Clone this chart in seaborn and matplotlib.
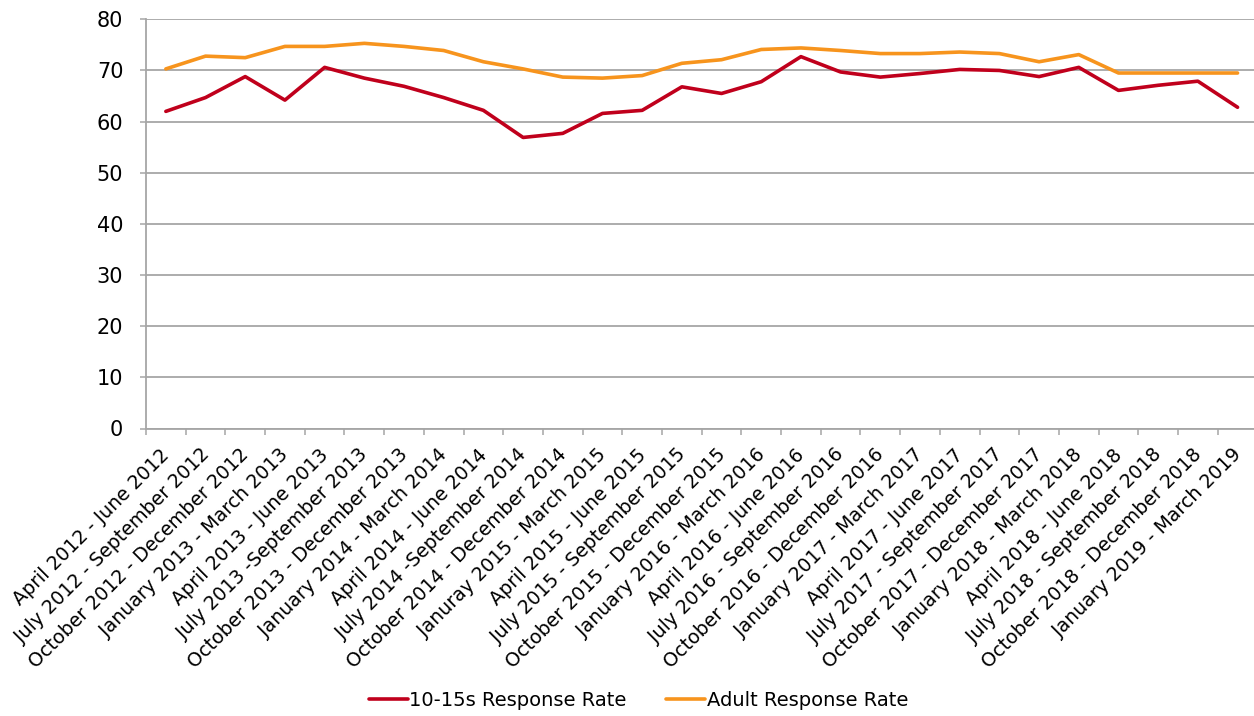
import numpy as np
import pandas as pd
import matplotlib
matplotlib.use('Agg')
import matplotlib.pyplot as plt
import matplotlib.transforms as mtransforms
import seaborn as sns

# Quarter labels (spelling kept as in the source chart)
quarters = [
    'April 2012 - June 2012', 'July 2012 - September 2012', 'October 2012 - December 2012',
    'January 2013 - March 2013', 'April 2013 - June 2013', 'July 2013 -September 2013',
    'October 2013 - December 2013', 'January 2014 - March 2014', 'April 2014 - June 2014',
    'July 2014 -September 2014', 'October 2014 - December 2014', 'Januray 2015 - March 2015',
    'April 2015 - June 2015', 'July 2015 - September 2015', 'October 2015 - December 2015',
    'January 2016 - March 2016', 'April 2016 - June 2016', 'July 2016 - September 2016',
    'October 2016 - December 2016', 'January 2017 - March 2017', 'April 2017 - June 2017',
    'July 2017 - September 2017', 'October 2017 - December 2017', 'January 2018 - March 2018',
    'April 2018 - June 2018', 'July 2018 - September 2018', 'October 2018 - December 2018',
    'January 2019 - March 2019',
]

youth_rate = [62.0, 64.7, 68.8, 64.2, 70.6, 68.5, 66.9, 64.7, 62.2, 56.9, 57.7, 61.6, 62.2, 66.8,
              65.5, 67.8, 72.7, 69.7, 68.7, 69.4, 70.2, 70.0, 68.8, 70.6, 66.1, 67.1, 67.9, 62.8]
adult_rate = [70.3, 72.8, 72.5, 74.7, 74.7, 75.3, 74.7, 73.9, 71.7, 70.3, 68.7, 68.5, 69.0, 71.4,
              72.1, 74.1, 74.4, 73.9, 73.3, 73.3, 73.6, 73.3, 71.7, 73.1, 69.5, 69.5, 69.5, 69.5]

series_names = ['10-15s Response Rate', 'Adult Response Rate']
series_colors = ['#C0001C', '#F7941D']
y_ticks = [0, 10, 20, 30, 40, 50, 60, 70, 80]

# long-form table for seaborn
df = pd.DataFrame({
    'pos': list(range(len(quarters))) * 2,
    'rate': youth_rate + adult_rate,
    'series': [series_names[0]] * len(quarters) + [series_names[1]] * len(quarters),
})

sns.set_style('white')
plt.rcParams['font.family'] = ['DejaVu Sans']
plt.rcParams['text.color'] = 'black'

W, H = 1254, 716
fig = plt.figure(figsize=(W / 100, H / 100), dpi=100)
ax = fig.add_axes([146 / W, 1 - 428.5 / H, (1257.4 - 146) / W, (428.5 - 19.3) / H])

sns.lineplot(data=df, x='pos', y='rate', hue='series', hue_order=series_names,
             palette=dict(zip(series_names, series_colors)), linewidth=2.6,
             legend=False, ax=ax, zorder=3)

grid_col = '#A6A6A6'
ax.set_xlim(-0.5, len(quarters) - 0.5)
ax.set_ylim(0, 80)
ax.set_yticks(y_ticks)
ax.yaxis.grid(True, color=grid_col, linewidth=1.3)
ax.set_axisbelow(True)
ax.tick_params(axis='y', labelsize=15, length=4.3, width=1.1, color=grid_col, pad=12,
               left=True, labelcolor='black')

ax.set_xticks(range(len(quarters)))
ax.set_xticklabels(quarters, rotation=45, ha='right', va='top', rotation_mode='anchor', fontsize=13.7)
ax.set_xticks(np.arange(-0.5, len(quarters), 1), minor=True)
ax.tick_params(axis='x', which='major', length=0, pad=12, labelcolor='black')
ax.tick_params(axis='x', which='minor', length=4, width=1.1, color=grid_col, bottom=True)
shift = mtransforms.ScaledTranslation(-6 / 100, 0, fig.dpi_scale_trans)
for lab in ax.get_xticklabels():
    lab.set_transform(lab.get_transform() + shift)

ax.set_xlabel('')
ax.set_ylabel('')
for side in ['top', 'right']:
    ax.spines[side].set_visible(False)
for side in ['left', 'bottom']:
    ax.spines[side].set_color(grid_col)
    ax.spines[side].set_linewidth(1.3)

handles = ax.get_lines()[:2]
ax.legend(handles, series_names, loc='center', bbox_to_anchor=(0.509, 0.022),
          bbox_transform=fig.transFigure, ncol=2, frameon=False, fontsize=14,
          handlelength=2.0, handletextpad=0.1, columnspacing=2.0, labelcolor='black')

fig.savefig('out.png', dpi=100)
